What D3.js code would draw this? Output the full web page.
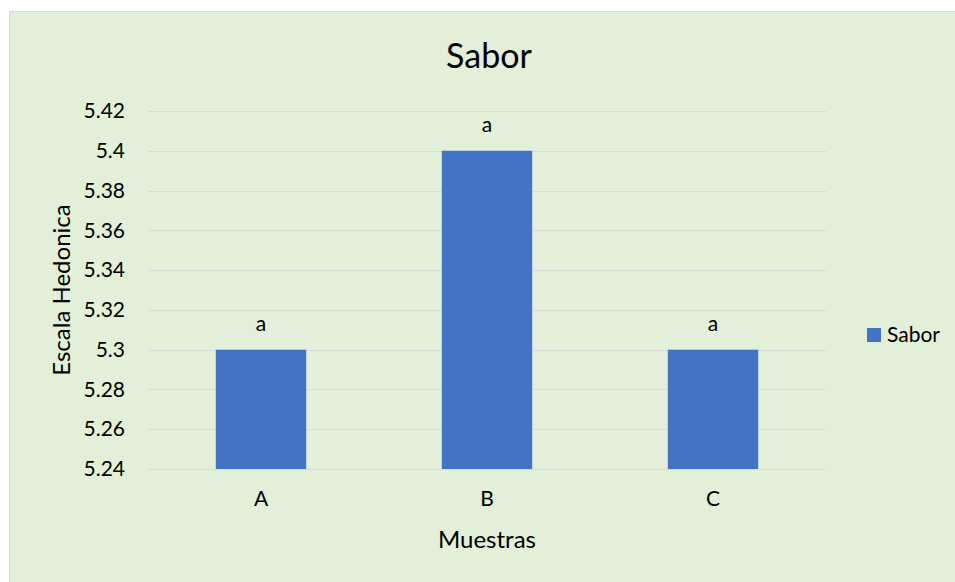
<!DOCTYPE html>
<html>
<head>
<meta charset="utf-8">
<script src="https://cdn.jsdelivr.net/npm/d3@7"></script>
<style>
  body { margin: 0; background: #fff; }
  text { font-family: Lato, "Open Sans", sans-serif; fill: #000; }
</style>
</head>
<body>
<svg id="chart" width="955" height="582"></svg>
<script>
const categories = ["A", "B", "C"];
const values = [5.30, 5.40, 5.30];
const letters = ["a", "a", "a"];
const yTicks = [5.24, 5.26, 5.28, 5.30, 5.32, 5.34, 5.36, 5.38, 5.40, 5.42];
const seriesName = "Sabor";

const svg = d3.select("#chart");
const margin = {top: 111, right: 129, bottom: 113, left: 148};
const width = 955, height = 582;
const innerW = width - margin.left - margin.right;
const innerH = height - margin.top - margin.bottom;

// chart area background + border
svg.append("rect")
  .attr("x", 9.5).attr("y", 11.5)
  .attr("width", width).attr("height", height)
  .attr("fill", "#e2efd9")
  .attr("stroke", "#d9d9d9");

const g = svg.append("g").attr("transform", `translate(${margin.left},${margin.top})`);

const x = d3.scaleBand().domain(categories).range([0, innerW]).paddingInner(0.6).paddingOuter(0.3);
const y = d3.scaleLinear().domain([5.24, 5.42]).range([innerH, 0]);

// gridlines
g.selectAll(".grid").data(yTicks).join("line")
  .attr("x1", 0).attr("x2", innerW)
  .attr("y1", d => Math.round(y(d)) + 0.5).attr("y2", d => Math.round(y(d)) + 0.5)
  .attr("stroke", "#d9d9d9").attr("stroke-width", 1);

// y axis labels
const yAxis = d3.axisLeft(y).tickValues(yTicks).tickSize(0).tickPadding(23)
  .tickFormat(d => d3.format("")(+d.toFixed(2)));
g.append("g").call(yAxis)
  .call(s => s.select(".domain").remove())
  .selectAll("text").style("font-size", "21px").style("font-family", "Lato, sans-serif");

// bars
g.selectAll(".bar").data(values).join("rect")
  .attr("x", (d, i) => x(categories[i]))
  .attr("y", d => y(d))
  .attr("width", x.bandwidth())
  .attr("height", d => innerH - y(d))
  .attr("fill", "#4472c4");

// data labels
g.selectAll(".lbl").data(values).join("text")
  .attr("x", (d, i) => x(categories[i]) + x.bandwidth() / 2)
  .attr("y", d => y(d) - 19)
  .attr("text-anchor", "middle")
  .style("font-size", "21px")
  .text((d, i) => letters[i]);

// x axis
const xAxis = d3.axisBottom(x).tickSize(0).tickPadding(22);
g.append("g").attr("transform", `translate(0,${innerH})`).call(xAxis)
  .call(s => s.select(".domain").remove())
  .selectAll("text").style("font-size", "21px").style("font-family", "Lato, sans-serif");

// titles
svg.append("text").attr("x", margin.left + innerW / 2 + 2).attr("y", 68)
  .attr("text-anchor", "middle").style("font-size", "34px").text("Sabor");

svg.append("text").attr("x", margin.left + innerW / 2).attr("y", 548)
  .attr("text-anchor", "middle").style("font-size", "24px").text("Muestras");

svg.append("text")
  .attr("transform", `translate(70,${margin.top + innerH / 2}) rotate(-90)`)
  .attr("text-anchor", "middle").style("font-size", "24px").text("Escala Hedonica");

// legend
const leg = svg.append("g").attr("transform", "translate(867,328)");
leg.append("rect").attr("width", 14).attr("height", 14).attr("fill", "#4472c4");
leg.append("text").attr("x", 20).attr("y", 14).style("font-size", "21px").text(seriesName);
</script>
</body>
</html>
